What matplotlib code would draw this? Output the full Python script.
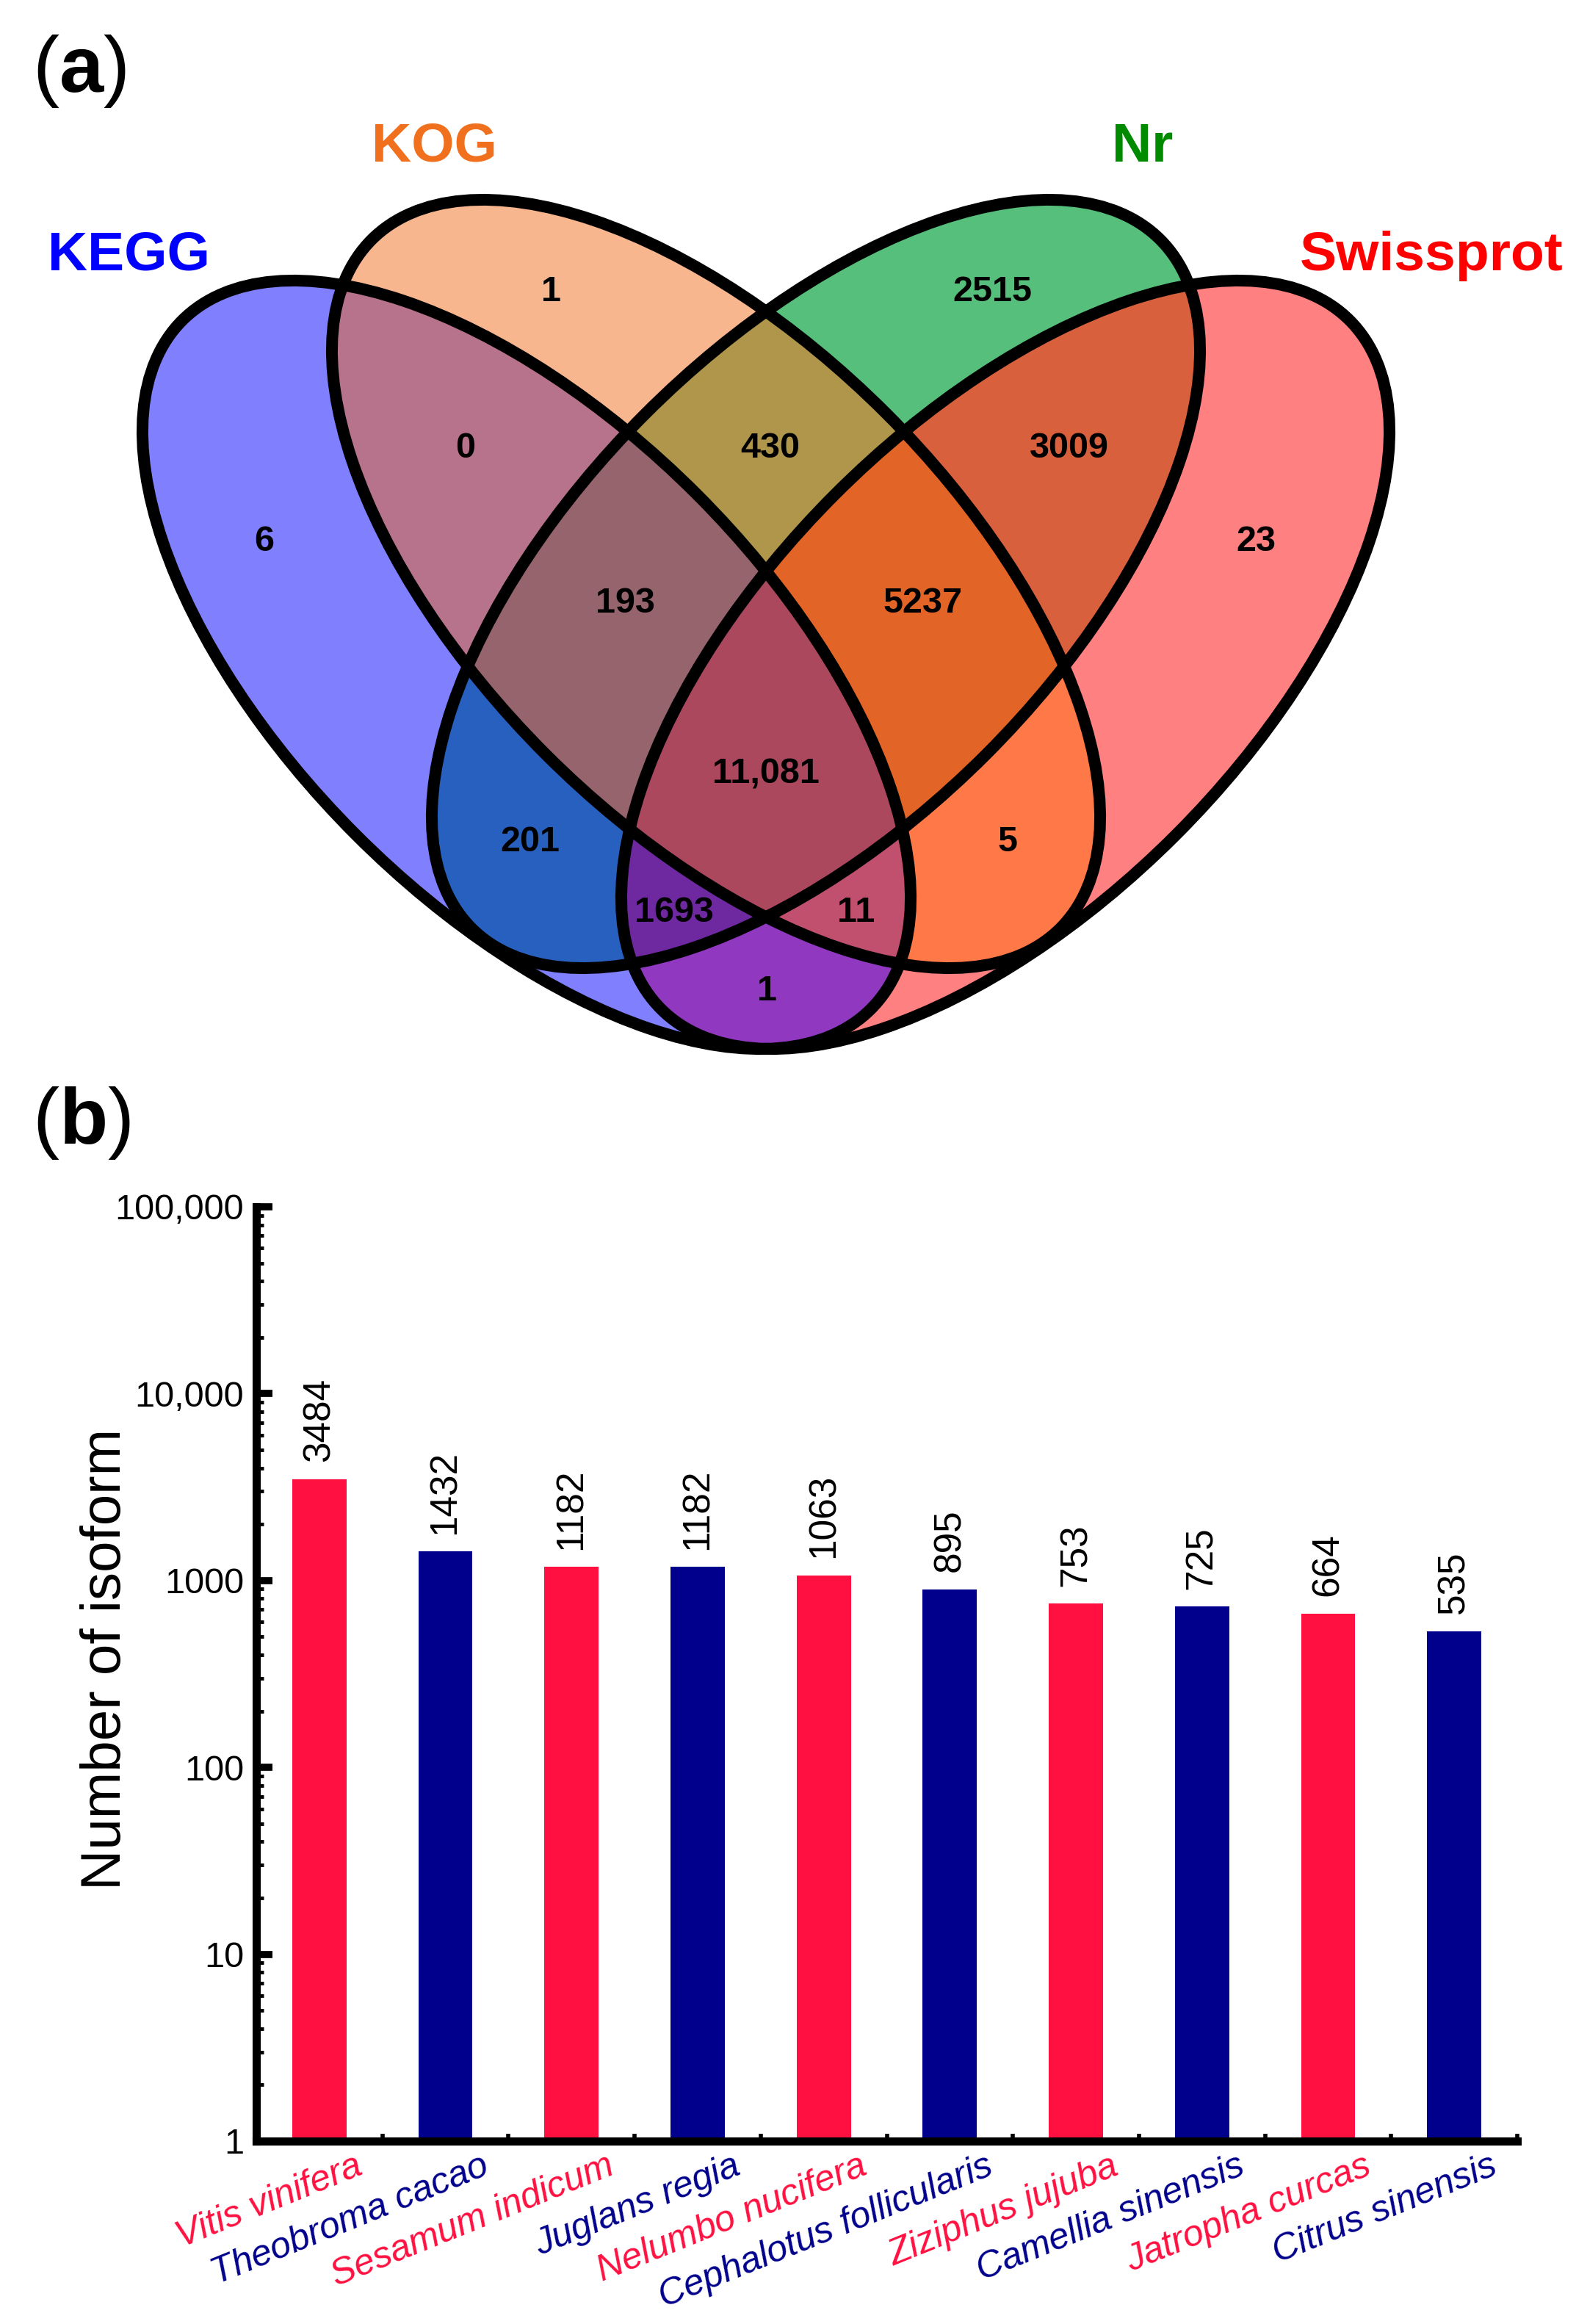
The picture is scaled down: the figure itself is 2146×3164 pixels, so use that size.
import numpy as np
import matplotlib
matplotlib.use('Agg')
import matplotlib.pyplot as plt
import matplotlib.transforms as mtransforms
from matplotlib.patches import Ellipse
from matplotlib.ticker import FixedLocator, LogLocator, NullFormatter

plt.rcParams['font.family'] = ['Liberation Sans', 'DejaVu Sans']
plt.rcParams['mathtext.fontset'] = 'custom'
plt.rcParams['mathtext.rm'] = 'Liberation Sans'
plt.rcParams['mathtext.bf'] = 'Liberation Sans:bold'

# ---- (a) venn data ----
set_names = ['KEGG', 'KOG', 'Nr', 'Swissprot']
set_colors = ['#0000FF', '#F0701E', '#008A00', '#FF0000']
# membership flags: KEGG, KOG, Nr, Swissprot
region_keys = ['1000', '0100', '0010', '0001', '1100', '0110', '0011', '1110',
               '0111', '1111', '1010', '1011', '1101', '0101', '1001']
region_counts = ['6', '1', '2515', '23', '0', '430', '3009', '193',
                 '5237', '11,081', '201', '1693', '11', '5', '1']
region_colors = ['#8080FF', '#F8B68F', '#55BF7B', '#FF8080', '#B8738C', '#B0964A',
                 '#D9603C', '#96646C', '#E26426', '#AB485E', '#2860C0', '#6E28A0',
                 '#C0506E', '#FF7848', '#9038C0']

# ---- (b) bar data ----
species = ['Vitis vinifera', 'Theobroma cacao', 'Sesamum indicum', 'Juglans regia',
           'Nelumbo nucifera', 'Cephalotus follicularis', 'Ziziphus jujuba',
           'Camellia sinensis', 'Jatropha curcas', 'Citrus sinensis']
isoforms = [3484, 1432, 1182, 1182, 1063, 895, 753, 725, 664, 535]
ytick_vals = [1, 10, 100, 1000, 10000, 100000]
ytick_text = ['1', '10', '100', '1000', '10,000', '100,000']

RED = '#FF1040'
NAVY = '#00008C'

W, H = 2146, 3164
fig = plt.figure(figsize=(W / 100, H / 100), dpi=100)

# venn drawn in pixel coordinates
va_ax = fig.add_axes([0, 0, 1, 1])
va_ax.set_xlim(0, W)
va_ax.set_ylim(H, 0)
va_ax.axis('off')

# ellipse layout (pixels)
ell_c = [(717, 905), (975, 795), (1111, 795), (1369, 905)]
ell_ang = [45, 45, -45, -45]
semi_a, semi_b = 663, 328

gy, gx = np.mgrid[0:1500, 0:W] + 0.5
inside = []
for (cx, cy), ang in zip(ell_c, ell_ang):
    t = np.radians(ang)
    dx, dy = gx - cx, gy - cy
    u = dx * np.cos(t) + dy * np.sin(t)
    v = -dx * np.sin(t) + dy * np.cos(t)
    inside.append((u / semi_a) ** 2 + (v / semi_b) ** 2 <= 1)

img = np.zeros(gx.shape + (4,))
for key, col in zip(region_keys, region_colors):
    m = np.ones(gx.shape, bool)
    for flag, ins in zip(key, inside):
        m &= ins if flag == '1' else ~ins
    img[m] = matplotlib.colors.to_rgba(col)
va_ax.imshow(img, extent=(0, W, 1500, 0), origin='upper', interpolation='antialiased', zorder=1)

for (cx, cy), ang in zip(ell_c, ell_ang):
    va_ax.add_patch(Ellipse((cx, cy), 2 * semi_a, 2 * semi_b, angle=ang,
                            fill=False, ec='black', lw=11.5, zorder=2))

# set names
name_pos = [(175, 368), (591, 220), (1556, 220), (1949, 368)]
for name, col, (x, y) in zip(set_names, set_colors, name_pos):
    va_ax.text(x, y, name, color=col, fontsize=54, fontweight='bold',
               ha='center', va='baseline', zorder=3)

# region numbers (same order as region_counts)
num_pos = [(360, 733), (750, 393), (1351, 393), (1710, 733), (634, 606),
           (1049, 606), (1456, 606), (851, 817), (1257, 817), (1043, 1049),
           (722, 1142), (918, 1238), (1166, 1238), (1372, 1142), (1045, 1345)]
for txt, (x, y) in zip(region_counts, num_pos):
    va_ax.text(x, y + 17, txt, fontsize=35, fontweight='bold',
               ha='center', va='baseline', zorder=3)

va_ax.text(44, 125, r'($\mathbf{a}$)', fontsize=78, ha='left', va='baseline')
va_ax.text(44, 1557, r'($\mathbf{b}$)', fontsize=78, ha='left', va='baseline')

# ---- (b) bars ----
ax = fig.add_axes([349 / W, 1 - 2915 / H, 1717 / W, 1272 / H])
x = np.arange(len(species))
bar_colors = [RED if i % 2 == 0 else NAVY for i in x]
ax.set_yscale('log')
ax.bar(x, isoforms, width=0.43, color=bar_colors)
ax.set_ylim(1, 100000)
ax.set_xlim(-0.5, 9.5)

for s in ['top', 'right']:
    ax.spines[s].set_visible(False)
for s in ['left', 'bottom']:
    ax.spines[s].set_linewidth(8)

ax.set_yticks(ytick_vals)
ax.set_yticklabels(ytick_text)
ax.yaxis.set_minor_locator(LogLocator(base=10, subs=np.arange(2, 10)))
ax.yaxis.set_minor_formatter(NullFormatter())
ax.tick_params(axis='y', which='major', direction='in', length=16, width=7,
               labelsize=35, pad=12)
ax.tick_params(axis='y', which='minor', direction='in', length=7, width=3.5)

ax.xaxis.set_major_locator(FixedLocator(np.arange(0.5, 10, 1)))
ax.xaxis.set_major_formatter(NullFormatter())
ax.tick_params(axis='x', which='major', direction='in', length=7, width=4)
ax.tick_params(axis='x', which='minor', length=0)

ax.set_ylabel('Number of isoform', fontsize=55, va='center')
ax.yaxis.set_label_coords(-0.119, 0.516)

for i, v in zip(x, isoforms):
    ax.annotate(str(v), xy=(i, v), xytext=(0, 17), textcoords='offset points',
                rotation=90, ha='center', va='bottom', fontsize=37)

lab_trans = mtransforms.blended_transform_factory(ax.transData, ax.transAxes)
lab_off = mtransforms.ScaledTranslation(44 / 72, -32 / 72, fig.dpi_scale_trans)
for i, name in zip(x, species):
    ax.text(i, 0, name, transform=lab_trans + lab_off, rotation=22,
            rotation_mode='anchor', ha='right', va='baseline', fontsize=36,
            fontstyle='italic', color=bar_colors[i], clip_on=False)

fig.savefig('out.png', dpi=100)
